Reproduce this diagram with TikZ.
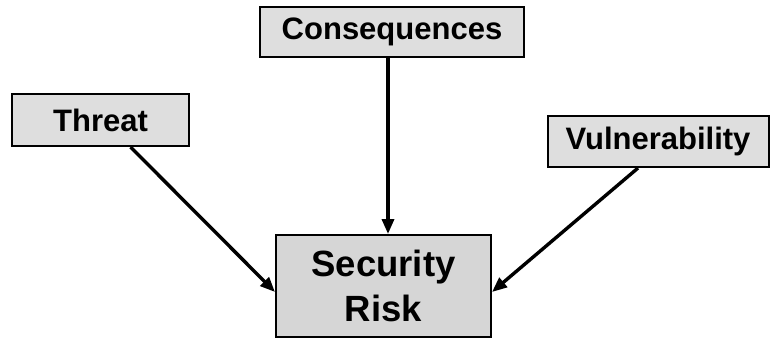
\documentclass[tikz,border=0pt]{standalone}
\usepackage{fontspec}
\setmainfont{Liberation Sans}
\usetikzlibrary{arrows.meta,calc}
\begin{document}
\begin{tikzpicture}[x=1pt,y=-1pt,
  box/.style={draw=black,line width=2pt,fill=black!13,inner sep=0pt,font=\bfseries\fontsize{31}{34}\selectfont},
  conn/.style={line width=3.4pt,-{Triangle[length=15pt,width=12pt]}}]
\useasboundingbox (0,0) rectangle (770,340);
\node[box,minimum width=264pt,minimum height=50pt] (cons) at (392,32) {Consequences};
\node[box,minimum width=177pt,minimum height=52pt] (threat) at (100.5,120) {Threat};
\node[box,minimum width=221pt,minimum height=51pt] (vuln) at (658,141.5) {Vulnerability};
\node[box,minimum width=215pt,minimum height=102pt,align=center,font=\bfseries\fontsize{36.5}{45}\selectfont,fill=black!16] (risk) at (383.5,286) {Security\\Risk};
\coordinate (t1) at ($(threat.south)+(30,0)$);
\coordinate (t2) at ($(risk.west)+(0,6)$);
\coordinate (v1) at ($(vuln.south)+(-20,0)$);
\coordinate (v2) at ($(risk.east)+(0,6)$);
\coordinate (c1) at ($(cons.south)+(-4,0)$);
\draw[conn] (t1) -- (t2);
\draw[conn] (v1) -- (v2);
\draw[conn] (c1) -- (c1 |- risk.north);
\end{tikzpicture}
\end{document}
